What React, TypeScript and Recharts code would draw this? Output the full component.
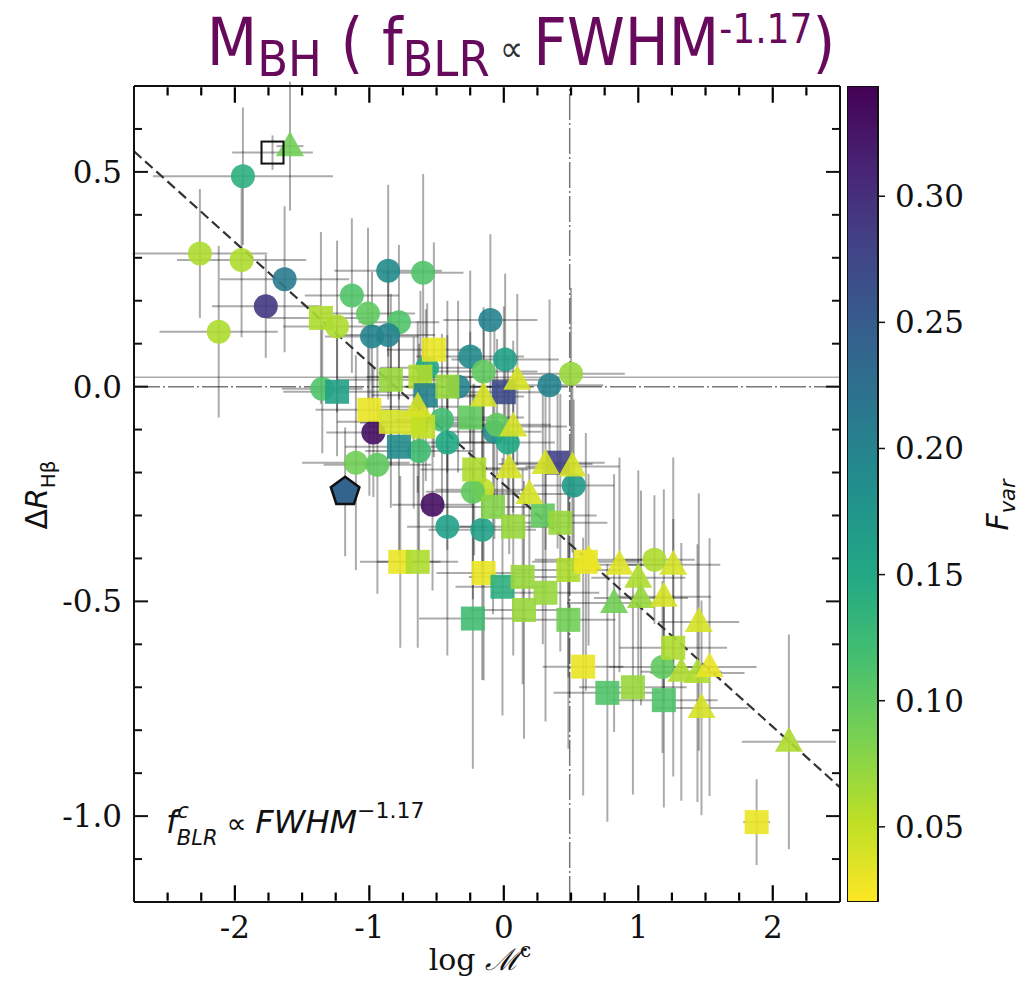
import React from 'react';
import { ScatterChart, Scatter, XAxis, YAxis, ErrorBar, ReferenceLine, BarChart, Bar } from 'recharts';

// each row: log Mdot^c, Delta R_Hb, Fvar, x error, y error
const circles: number[][] = [
  [-2.26, 0.31, 0.06, 0.5, 0.15],
  [-1.95, 0.295, 0.06, 0.48, 0.18],
  [-1.94, 0.49, 0.14, 0.67, 0.16],
  [-1.63, 0.25, 0.21, 0.48, 0.17],
  [-1.77, 0.187, 0.29, 0.4, 0.12],
  [-2.12, 0.128, 0.06, 0.44, 0.2],
  [-1.13, 0.212, 0.11, 0.35, 0.18],
  [-0.86, 0.27, 0.19, 0.4, 0.2],
  [-0.6, 0.265, 0.11, 0.3, 0.23],
  [-1.01, 0.17, 0.1, 0.35, 0.2],
  [-0.78, 0.15, 0.11, 0.3, 0.18],
  [-0.98, 0.117, 0.2, 0.35, 0.15],
  [-0.86, 0.12, 0.2, 0.35, 0.15],
  [-1.24, 0.14, 0.06, 0.4, 0.2],
  [-0.1, 0.155, 0.2, 0.35, 0.2],
  [-0.25, 0.07, 0.19, 0.4, 0.2],
  [0.01, 0.063, 0.16, 0.4, 0.2],
  [-0.57, 0.044, 0.15, 0.35, 0.15],
  [-0.15, 0.035, 0.1, 0.4, 0.15],
  [-0.34, 0.0, 0.2, 0.4, 0.2],
  [0.34, 0.003, 0.2, 0.4, 0.2],
  [0.5, 0.03, 0.07, 0.4, 0.2],
  [-1.35, -0.005, 0.11, 0.3, 0.15],
  [-0.97, -0.107, 0.33, 0.35, 0.15],
  [-0.63, -0.15, 0.12, 0.4, 0.25],
  [-1.1, -0.177, 0.09, 0.4, 0.25],
  [-0.94, -0.182, 0.1, 0.4, 0.3],
  [-0.46, -0.077, 0.12, 0.35, 0.2],
  [-0.42, -0.13, 0.15, 0.4, 0.25],
  [-0.07, -0.105, 0.19, 0.35, 0.25],
  [0.03, -0.13, 0.15, 0.35, 0.2],
  [-0.05, -0.089, 0.1, 0.4, 0.2],
  [0.52, -0.23, 0.17, 0.3, 0.2],
  [-0.53, -0.275, 0.33, 0.3, 0.2],
  [-0.42, -0.326, 0.16, 0.3, 0.3],
  [-0.16, -0.333, 0.16, 0.4, 0.35],
  [-0.16, -0.24, 0.05, 0.35, 0.2],
  [-0.23, -0.245, 0.1, 0.35, 0.25],
  [1.12, -0.403, 0.06, 0.3, 0.15],
  [1.18, -0.653, 0.1, 0.4, 0.2],
];

const squares: number[][] = [
  [-1.36, 0.16, 0.06, 0.4, 0.2],
  [-0.52, 0.086, 0.03, 0.35, 0.25],
  [-0.62, 0.023, 0.06, 0.4, 0.2],
  [-0.84, 0.016, 0.07, 0.4, 0.2],
  [-1.24, -0.012, 0.16, 0.4, 0.15],
  [-0.58, -0.02, 0.2, 0.4, 0.2],
  [-0.42, 0.0, 0.07, 0.4, 0.2],
  [0.0, -0.013, 0.27, 0.4, 0.2],
  [-1.0, -0.054, 0.03, 0.4, 0.2],
  [-0.84, -0.082, 0.04, 0.4, 0.2],
  [-0.67, -0.084, 0.04, 0.4, 0.2],
  [-0.6, -0.093, 0.05, 0.4, 0.2],
  [-0.78, -0.14, 0.19, 0.4, 0.25],
  [-0.25, -0.072, 0.1, 0.4, 0.2],
  [0.4, -0.177, 0.28, 0.35, 0.2],
  [-0.22, -0.193, 0.06, 0.4, 0.2],
  [-0.08, -0.28, 0.08, 0.4, 0.25],
  [0.29, -0.3, 0.1, 0.4, 0.3],
  [0.07, -0.326, 0.07, 0.4, 0.3],
  [0.42, -0.317, 0.07, 0.35, 0.3],
  [-0.77, -0.408, 0.03, 0.3, 0.2],
  [-0.64, -0.408, 0.06, 0.3, 0.2],
  [-0.15, -0.434, 0.03, 0.35, 0.25],
  [-0.01, -0.466, 0.14, 0.35, 0.3],
  [0.14, -0.443, 0.07, 0.4, 0.25],
  [0.31, -0.48, 0.07, 0.4, 0.3],
  [0.15, -0.52, 0.07, 0.4, 0.3],
  [-0.23, -0.54, 0.12, 0.4, 0.35],
  [0.48, -0.543, 0.09, 0.35, 0.3],
  [0.48, -0.427, 0.06, 0.4, 0.25],
  [0.61, -0.408, 0.03, 0.4, 0.3],
  [0.59, -0.652, 0.03, 0.3, 0.3],
  [1.26, -0.608, 0.06, 0.4, 0.3],
  [0.77, -0.713, 0.11, 0.4, 0.3],
  [0.96, -0.7, 0.07, 0.4, 0.25],
  [1.19, -0.73, 0.11, 0.4, 0.25],
  [1.88, -1.014, 0.03, 0.1, 0.1],
];

const triangles: number[][] = [
  [-1.59, 0.56, 0.09, 0.1, 0.15],
  [0.1, 0.016, 0.04, 0.3, 0.2],
  [-0.15, -0.023, 0.04, 0.3, 0.2],
  [-0.64, -0.047, 0.04, 0.3, 0.2],
  [0.07, -0.093, 0.04, 0.4, 0.2],
  [0.31, -0.18, 0.04, 0.35, 0.2],
  [0.51, -0.186, 0.04, 0.35, 0.2],
  [0.04, -0.19, 0.04, 0.35, 0.2],
  [0.19, -0.25, 0.04, 0.35, 0.25],
  [0.63, -0.403, 0.03, 0.4, 0.2],
  [0.86, -0.415, 0.035, 0.4, 0.25],
  [1.0, -0.445, 0.06, 0.35, 0.25],
  [1.26, -0.415, 0.04, 0.35, 0.25],
  [0.82, -0.504, 0.09, 0.35, 0.3],
  [1.02, -0.492, 0.07, 0.35, 0.25],
  [1.19, -0.489, 0.04, 0.35, 0.25],
  [1.45, -0.548, 0.04, 0.3, 0.3],
  [1.32, -0.664, 0.06, 0.3, 0.3],
  [1.44, -0.667, 0.06, 0.35, 0.3],
  [1.53, -0.653, 0.03, 0.35, 0.3],
  [1.47, -0.748, 0.04, 0.35, 0.25],
  [2.12, -0.827, 0.06, 0.35, 0.25],
];

const pentagons: number[][] = [[-1.18, -0.245, 0.24, 0.1, 0.15]];
const openSquares: number[][] = [[-1.72, 0.545, 0, 0.3, 0.04]];

const fitLine = [{ x: -2.75, y: 0.548 }, { x: 2.5, y: -0.933 }];
const xDomain = [-2.75, 2.5];
const yDomain = [-1.2, 0.7];
const fDomain = [0.0202, 0.3437];
const xTicks = [-2, -1, 0, 1, 2];
const xMinorTicks = [-2.5, -2.25, -1.75, -1.5, -1.25, -0.75, -0.5, -0.25, 0.25, 0.5, 0.75, 1.25, 1.5, 1.75, 2.25];
const yTicks = [-1.0, -0.5, 0.0, 0.5];
const yMinorTicks = [-1.1, -0.9, -0.8, -0.7, -0.6, -0.4, -0.3, -0.2, -0.1, 0.1, 0.2, 0.3, 0.4, 0.6];
const cbarTicks = [0.05, 0.1, 0.15, 0.2, 0.25, 0.3];
const cbarData = [{ k: 'Fvar', range: fDomain }];

const VIRIDIS = ['#440154', '#482475', '#414487', '#355f8d', '#2a788e', '#21918c', '#22a884', '#44bf70', '#7ad151', '#bddf26', '#fde725'];

const hex = (c: string) => [1, 3, 5].map(i => parseInt(c.slice(i, i + 2), 16));
function fvarColor(f: number) {
  let t = 1 - (f - fDomain[0]) / (fDomain[1] - fDomain[0]);
  t = Math.max(0, Math.min(1, t));
  const p = t * 10;
  const i = Math.min(9, Math.floor(p));
  const u = p - i;
  const a = hex(VIRIDIS[i]);
  const b = hex(VIRIDIS[i + 1]);
  const m = a.map((v, k) => Math.round(v + (b[k] - v) * u));
  return `rgb(${m[0]},${m[1]},${m[2]})`;
}

const toPts = (rows: number[][]) => rows.map(([x, y, f, ex, ey]) => ({ x, y, f, ex, ey }));
const allPts = [...toPts(circles), ...toPts(squares), ...toPts(triangles), ...toPts(pentagons), ...toPts(openSquares)];

// inward x tick marks on the bottom and top frame; points sit a hair inside the frame
// (points exactly on the edge get dropped), lengths in y data units (~15px / ~8px)
const edge = 0.003;
const majorLen = 0.036;
const minorLen = 0.019;
const frameTicks = [
  ...xTicks.map(t => ({ x: t, y: yDomain[0] + edge, tl: [0, majorLen] })),
  ...xMinorTicks.map(t => ({ x: t, y: yDomain[0] + edge, tl: [0, minorLen] })),
  ...xTicks.map(t => ({ x: t, y: yDomain[1] - edge, tl: [majorLen, 0] })),
  ...xMinorTicks.map(t => ({ x: t, y: yDomain[1] - edge, tl: [minorLen, 0] })),
];

const fOf = (p: any) => (p.payload ? p.payload.f : p.f);

const CircleShape = (p: any) => <circle cx={p.cx} cy={p.cy} r={12} fill={fvarColor(fOf(p))} fillOpacity={0.9} />;
const SquareShape = (p: any) => <rect x={p.cx - 12} y={p.cy - 12} width={24} height={24} fill={fvarColor(fOf(p))} fillOpacity={0.9} />;
const TriangleShape = (p: any) => (
  <polygon points={`${p.cx},${p.cy - 15} ${p.cx - 14},${p.cy + 10} ${p.cx + 14},${p.cy + 10}`} fill={fvarColor(fOf(p))} fillOpacity={0.9} />
);
const PentagonShape = (p: any) => {
  const pts = [0, 1, 2, 3, 4].map(k => {
    const a = -Math.PI / 2 + (k * 2 * Math.PI) / 5;
    return `${p.cx + 15 * Math.cos(a)},${p.cy + 15 * Math.sin(a)}`;
  }).join(' ');
  return <polygon points={pts} fill={fvarColor(fOf(p))} stroke="#111" strokeWidth={2.5} />;
};
const OpenSquareShape = (p: any) => <rect x={p.cx - 11} y={p.cy - 11} width={22} height={22} fill="none" stroke="#111" strokeWidth={2} />;
const NoShape = () => <g />;

const hideLabel = () => <g />;
const tickFont = { fill: '#111', fontSize: 31, fontFamily: 'DejaVu Serif' };
const tickStroke = { stroke: '#111', strokeWidth: 2 };

const App: React.FC = () => {
  return (
    <div style={{ position: 'absolute', left: 0, top: 0, width: 1024, height: 983, background: '#fff' }}>
      <svg width={0} height={0} style={{ position: 'absolute' }}>
        <defs>
          <linearGradient id="viridisBar" x1="0" y1="1" x2="0" y2="0">
            {VIRIDIS.map((c, i) => (
              <stop key={i} offset={`${i * 10}%`} stopColor={VIRIDIS[10 - i]} />
            ))}
          </linearGradient>
        </defs>
      </svg>

      <div style={{ position: 'absolute', left: 0, top: 0 }}>
        <ScatterChart width={860} height={983} margin={{ top: 86, right: 20, bottom: 21, left: 0 }}>
          <XAxis xAxisId="x" type="number" dataKey="x" domain={xDomain} ticks={xTicks} interval={0} allowDataOverflow
            height={60} tickLine={false} axisLine={tickStroke} tick={tickFont} tickMargin={8} />
          <XAxis xAxisId="xt1" orientation="top" type="number" domain={xDomain} ticks={xTicks} interval={0} allowDataOverflow mirror height={1}
            tickLine={false} axisLine={tickStroke} tick={hideLabel} />

          <YAxis yAxisId="y" type="number" dataKey="y" domain={yDomain} ticks={yTicks} interval={0} allowDataOverflow
            width={134} tickLine={false} axisLine={tickStroke} tick={tickFont} tickMargin={6}
            tickFormatter={(v: number) => v.toFixed(1)} />
          <YAxis yAxisId="yl1" type="number" domain={yDomain} ticks={yTicks} interval={0} allowDataOverflow mirror width={1}
            tickSize={14} tickLine={tickStroke} axisLine={false} tick={hideLabel} />
          <YAxis yAxisId="yl2" type="number" domain={yDomain} ticks={yMinorTicks} interval={0} allowDataOverflow mirror width={1}
            tickSize={7} tickLine={tickStroke} axisLine={false} tick={hideLabel} />
          <YAxis yAxisId="yr1" orientation="right" type="number" domain={yDomain} ticks={yTicks} interval={0} allowDataOverflow mirror width={1}
            tickSize={14} tickLine={tickStroke} axisLine={tickStroke} tick={hideLabel} />
          <YAxis yAxisId="yr2" orientation="right" type="number" domain={yDomain} ticks={yMinorTicks} interval={0} allowDataOverflow mirror width={1}
            tickSize={7} tickLine={tickStroke} axisLine={false} tick={hideLabel} />

          <ReferenceLine xAxisId="x" yAxisId="y" y={0.022} stroke="#aaa" strokeWidth={1.5} />
          <ReferenceLine xAxisId="x" yAxisId="y" y={0} stroke="#777" strokeWidth={1.5} strokeDasharray="26 3 2 3" />
          <ReferenceLine xAxisId="x" yAxisId="y" x={0.49} stroke="#777" strokeWidth={1.5} strokeDasharray="26 3 2 3" />

          <Scatter xAxisId="x" yAxisId="y" data={toPts(circles)} shape={CircleShape} isAnimationActive={false} />
          <Scatter xAxisId="x" yAxisId="y" data={toPts(squares)} shape={SquareShape} isAnimationActive={false} />
          <Scatter xAxisId="x" yAxisId="y" data={toPts(triangles)} shape={TriangleShape} isAnimationActive={false} />
          <Scatter xAxisId="x" yAxisId="y" data={toPts(pentagons)} shape={PentagonShape} isAnimationActive={false} />
          <Scatter xAxisId="x" yAxisId="y" data={toPts(openSquares)} shape={OpenSquareShape} isAnimationActive={false} />
          <Scatter xAxisId="x" yAxisId="y" data={allPts} shape={NoShape} isAnimationActive={false}>
            <ErrorBar dataKey="ex" direction="x" width={0} stroke="rgba(0,0,0,0.33)" strokeWidth={2} />
            <ErrorBar dataKey="ey" direction="y" width={0} stroke="rgba(0,0,0,0.33)" strokeWidth={2} />
          </Scatter>

          <ReferenceLine xAxisId="x" yAxisId="y" segment={fitLine} stroke="#333" strokeWidth={2.2} strokeDasharray="10 5" ifOverflow="hidden" />

          <Scatter xAxisId="x" yAxisId="y" data={frameTicks} shape={NoShape} isAnimationActive={false}>
            <ErrorBar dataKey="tl" direction="y" width={0} stroke="#000" strokeWidth={2.2} />
          </Scatter>
        </ScatterChart>
      </div>

      <div style={{ position: 'absolute', left: 847, top: 0 }}>
        <BarChart width={131} height={983} margin={{ top: 86, right: 0, bottom: 81, left: 0 }} data={cbarData}
          barCategoryGap={0} barGap={0}>
          <XAxis dataKey="k" hide />
          <YAxis orientation="right" type="number" domain={fDomain} ticks={cbarTicks} interval={0} allowDataOverflow
            width={100} tickSize={7} tickLine={{ stroke: '#111', strokeWidth: 1.5 }} axisLine={false} tick={tickFont} tickMargin={10}
            tickFormatter={(v: number) => v.toFixed(2)} />
          <Bar dataKey="range" fill="url(#viridisBar)" stroke="#111" strokeWidth={2} isAnimationActive={false} />
        </BarChart>
      </div>

      <svg width={1024} height={983} style={{ position: 'absolute', left: 0, top: 0, pointerEvents: 'none' }}>
        <text x={521} y={65} textAnchor="middle" fontFamily="'Liberation Sans Narrow','DejaVu Sans Condensed','DejaVu Sans',sans-serif" fontSize={65} fill="#680a5c">
          M<tspan fontSize={50} dy={11}>BH</tspan>
          <tspan dy={-11}> ( f</tspan>
          <tspan fontSize={50} dy={11}>BLR</tspan>
          <tspan dy={-15} fontSize={36} fill="#333"> ∝ </tspan>
          <tspan dy={4}>FWHM</tspan>
          <tspan fontSize={40} dy={-22}>-1.17</tspan>
          <tspan dy={22}>)</tspan>
        </text>

        <text transform="translate(47,495) rotate(-90)" textAnchor="middle" fontFamily="DejaVu Sans" fontSize={30} fill="#111">
          Δ<tspan fontStyle="italic">R</tspan>
          <tspan fontSize={20} dy={8}>Hβ</tspan>
        </text>

        <text x={480} y={970} textAnchor="middle" fontFamily="DejaVu Serif" fontSize={30} fill="#111">
          log <tspan fontStyle="italic">{'\u2133\u0307'}</tspan>
          <tspan fontSize={20} dy={-13}>c</tspan>
        </text>

        <text x={166} y={833} fontFamily="DejaVu Sans" fontStyle="italic" fontSize={32} fill="#111">
          f<tspan fontSize={21} dy={-15}>c</tspan>
          <tspan fontSize={21} dx={-12} dy={27}>BLR</tspan>
          <tspan dy={-12} fontStyle="normal" fontSize={28}> ∝ </tspan>
          <tspan>FWHM</tspan>
          <tspan fontSize={22} dy={-15} fontStyle="normal">−1.17</tspan>
        </text>

        <text transform="translate(1008,505) rotate(-90)" textAnchor="middle" fontFamily="DejaVu Sans" fontStyle="italic" fontSize={30} fill="#111">
          F<tspan fontSize={21} dy={7}>var</tspan>
        </text>
      </svg>
    </div>
  );
};

export default App;
